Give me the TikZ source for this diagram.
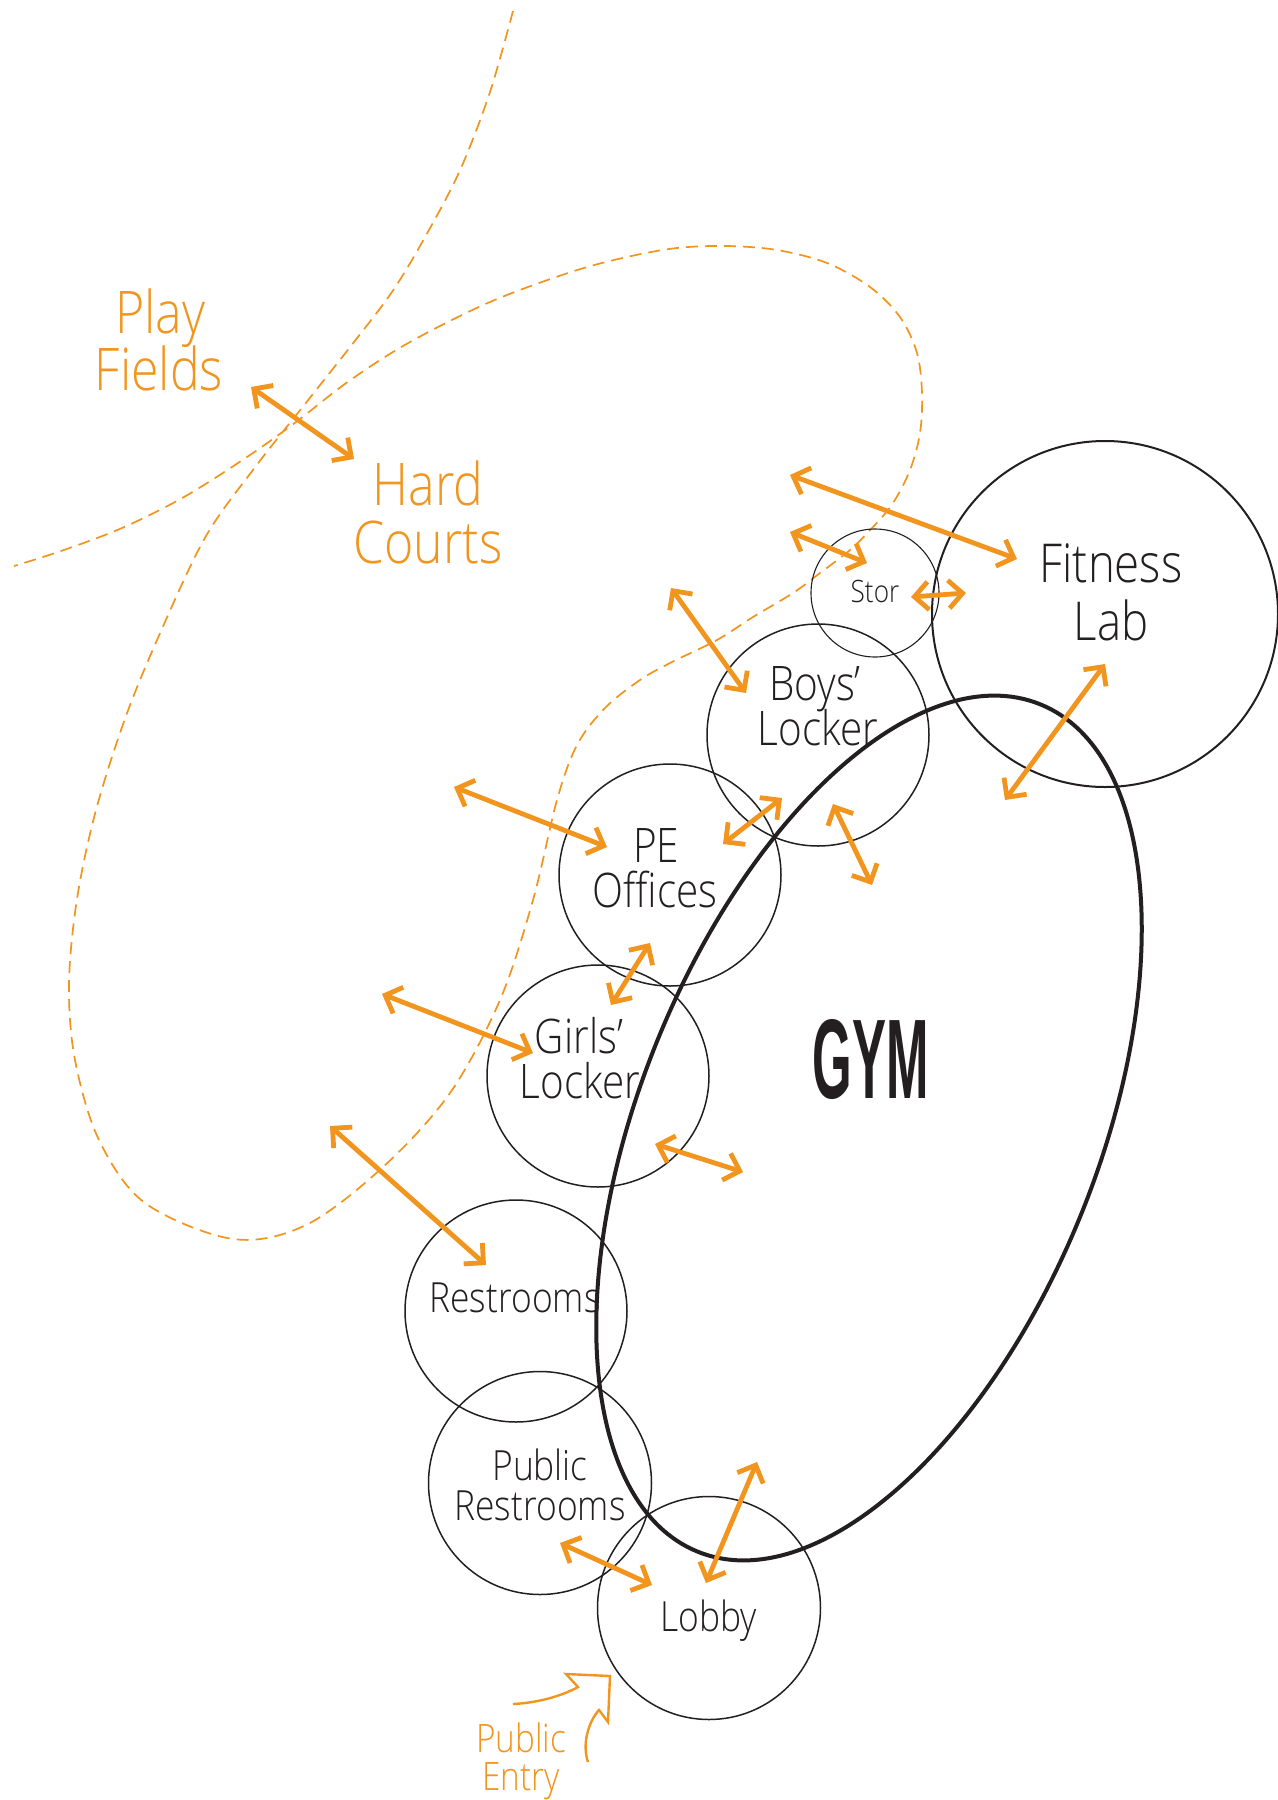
\documentclass[tikz,border=0pt]{standalone}
\usepackage{fontspec}
\setmainfont{Open Sans Light}[FakeStretch=0.85]
\newfontfamily\gymfont{Liberation Sans}[FakeStretch=0.45]
\usetikzlibrary{arrows.meta}
\definecolor{orng}{RGB}{241,149,30}
\definecolor{ink}{RGB}{35,31,32}
\tikzset{
  room/.style={circle, draw=ink, line width=0.75pt, inner sep=0pt},
  lbl/.style={text=ink, anchor=base, inner sep=0pt},
  site/.style={text=orng, anchor=base, inner sep=0pt},
  flow/.style={draw=orng, line width=2.4pt, {Straight Barb[length=7pt,width=14pt]}-{Straight Barb[length=7pt,width=14pt]}},
  zone/.style={draw=orng, line width=0.85pt, dash pattern=on 6pt off 3.5pt},
  gymline/.style={draw=ink, line width=2pt},
  entryline/.style={draw=orng, line width=1.2pt, line join=miter},
  fbig/.style={font=\fontsize{29.4}{29}\selectfont},
  ffit/.style={font=\fontsize{26.8}{27}\selectfont},
  froom/.style={font=\fontsize{23.8}{24}\selectfont},
  fsmall/.style={font=\fontsize{20.8}{21}\selectfont},
  fpair/.style={font=\fontsize{20.8}{17}\selectfont},
  fstor/.style={font=\fontsize{15.4}{16}\selectfont},
  fentry/.style={font=\fontsize{19.6}{20}\selectfont}
}
\begin{document}
\begin{tikzpicture}[x=0.5pt, y=-0.5pt]
\fill[white] (0,0) rectangle (1278,1800);
\useasboundingbox (0,0) rectangle (1278,1800);

% site boundary (dashed)
\draw[zone] plot[smooth, tension=0.55] coordinates {
 (513,11) (490,92) (461,168) (429,230) (394,289) (354,342) (305,404) (256,466)
 (206,536) (161,631) (126,716) (96,810) (77,899) (69,984) (75,1060) (99,1140)
 (145,1203) (233,1239) (306,1225) (383,1167) (450,1093) (500,1000) (533,900)
 (557,800) (577,745) (605,708) (640,680) (670,663) (717,640) (753,617) (793,593)
 (820,573) (850,550) (873,527) (893,503) (910,470) (920,433) (922,393) (917,353)
 (900,317) (870,287) (827,263) (777,250) (727,246) (677,248) (627,257) (571,272)
 (490,302) (410,342) (349,381) (296,422) (247,457) (184,497) (122,528) (61,551)
 (14,566)};

% rooms
\node[room, minimum size=173pt, line width=1pt] (fit) at (1105,614) {};
\node[room, minimum size=64pt, line width=0.55pt] (stor) at (875,593) {};
\node[room, minimum size=111pt] (boys) at (818,735) {};
\node[room, minimum size=111pt] (pe) at (670,875) {};
\node[room, minimum size=111pt] (girls) at (598,1076) {};
\node[room, minimum size=111pt] (rest) at (516,1311) {};
\node[room, minimum size=111.5pt] (pubrest) at (540,1483) {};
\node[room, minimum size=111.5pt] (lobby) at (709,1608) {};

% gym
\coordinate (gymc) at (869,1128);
\draw[gymline, rotate around={68:(gymc)}] (gymc) ellipse [x radius=457, y radius=229];
\node[anchor=base, text=ink, inner sep=0pt, font=\gymfont\bfseries\fontsize{56.6}{56}\selectfont] (gym) at (871,1098) {GYM};

% labels
\node[site, fbig] (play1) at (160,333) {Play};
\node[site, fbig] (play2) at (159,390) {Fields};
\node[site, fbig] (hard1) at (428,505) {Hard};
\node[site, fbig] (hard2) at (428,563) {Courts};
\node[lbl, ffit] (fit1) at (1111,582) {Fitness};
\node[lbl, ffit] (fit2) at (1111,640) {Lab};
\node[lbl, fstor] (stor1) at (875,602) {Stor};
\node[lbl, froom] (boys1) at (815,700) {Boys’};
\node[lbl, froom] (boys2) at (818,745) {Locker};
\node[lbl, froom] (pe1) at (656,862) {PE};
\node[lbl, froom] (pe2) at (655,907) {Offices};
\node[lbl, froom] (girls1) at (579,1053) {Girls’};
\node[lbl, froom] (girls2) at (580,1098) {Locker};
\node[lbl, fsmall] (rest1) at (515,1312) {Restrooms};
\node[lbl, fpair] (pub) at (540,1520) {\begin{tabular}[b]{@{}c@{}}Public\\Restrooms\end{tabular}};
\node[lbl, fsmall] (lobby1) at (709,1631) {Lobby};
\node[site, fentry, text depth=0pt] (entry1) at (521,1752) {Public};
\node[site, fentry, text height=14pt] (entry2) at (521,1790) {Entry};

% arrow end points
\coordinate (a1) at (251,387);  \coordinate (b1) at (354,459);
\coordinate (a2) at (790,475);  \coordinate (b2) at (1017,559);
\coordinate (a3) at (790,532);  \coordinate (b3) at (867,563);
\coordinate (a4) at (911,597);  \coordinate (b4) at (966,593);
\coordinate (a5) at (671,588);  \coordinate (b5) at (746,693);
\coordinate (a6) at (1105,664); \coordinate (b6) at (1005,800);
\coordinate (a7) at (782,798);  \coordinate (b7) at (723,844);
\coordinate (a8) at (833,804);  \coordinate (b8) at (872,885);
\coordinate (a9) at (454,787);  \coordinate (b9) at (607,847);
\coordinate (a10) at (650,943); \coordinate (b10) at (611,1005);
\coordinate (a11) at (382,994); \coordinate (b11) at (533,1053);
\coordinate (a12) at (655,1144); \coordinate (b12) at (743,1172);
\coordinate (a13) at (330,1126); \coordinate (b13) at (486,1265);
\coordinate (a14) at (757,1462); \coordinate (b14) at (706,1583);
\coordinate (a15) at (560,1543); \coordinate (b15) at (652,1585);

\foreach \i in {1,...,15} \draw[flow] (a\i) -- (b\i);

% public entry arrow
\coordinate (e0) at (513,1704);
\coordinate (e1) at (578,1687);
\coordinate (e2) at (566,1674);
\coordinate (e3) at (610,1676);
\coordinate (e4) at (608,1722);
\coordinate (e5) at (599,1710);
\coordinate (e6) at (588,1762);
\draw[entryline] (e0) .. controls (535,1703) and (560,1697) .. (e1) -- (e2) -- (e3) -- (e4) -- (e5) .. controls (588,1722) and (582,1745) .. (e6);
\end{tikzpicture}
\end{document}
